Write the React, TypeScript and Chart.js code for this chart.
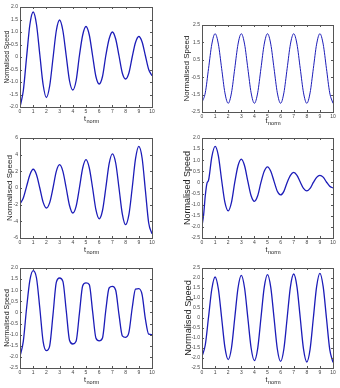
import React, { useEffect, useRef } from "react";
import { Chart, registerables } from "chart.js";
Chart.register(...registerables);

// ---------- data ----------
const T = [0, 0.25, 0.5, 0.75, 1, 1.25, 1.5, 1.75, 2, 2.25, 2.5, 2.75, 3, 3.25, 3.5, 3.75, 4, 4.25, 4.5, 4.75, 5, 5.25, 5.5, 5.75, 6, 6.25, 6.5, 6.75, 7, 7.25, 7.5, 7.75, 8, 8.25, 8.5, 8.75, 9, 9.25, 9.5, 9.75, 10];
const T4 = [0, 0.125, 0.25, 0.375, 0.5, 0.75, 1, 1.25, 1.5, 1.75, 2, 2.25, 2.5, 2.75, 3, 3.25, 3.5, 3.75, 4, 4.25, 4.5, 4.75, 5, 5.25, 5.5, 5.75, 6, 6.25, 6.5, 6.75, 7, 7.25, 7.5, 7.75, 8, 8.25, 8.5, 8.75, 9, 9.25, 9.5, 9.75, 10];

const SPEED_1 = [-2.0, -1.35, 0.0, 1.3, 1.8, 1.3, 0.1, -1.1, -1.62, -1.15, -0.05, 1.05, 1.48, 1.05, 0.05, -0.95, -1.32, -0.95, 0.05, 0.88, 1.22, 0.88, 0.05, -0.78, -1.08, -0.78, 0.05, 0.72, 1.0, 0.72, 0.05, -0.64, -0.88, -0.64, 0.0, 0.58, 0.82, 0.6, 0.05, -0.5, -0.75];
const SPEED_2 = [-1.95, -1.4, 0.0, 1.4, 2.0, 1.4, 0.0, -1.4, -2.0, -1.4, 0.0, 1.4, 2.0, 1.4, 0.0, -1.4, -2.0, -1.4, 0.0, 1.4, 2.0, 1.4, 0.0, -1.4, -2.0, -1.4, 0.0, 1.4, 2.0, 1.4, 0.0, -1.4, -2.0, -1.4, 0.0, 1.4, 2.0, 1.4, 0.0, -1.4, -2.0];
const SPEED_3 = [-1.9, -1.2, 0.2, 1.6, 2.25, 1.6, 0.0, -1.7, -2.4, -1.75, 0.0, 2.0, 2.8, 2.0, 0.0, -2.1, -3.0, -2.2, 0.0, 2.4, 3.4, 2.4, 0.0, -2.6, -3.7, -2.7, 0.0, 2.9, 4.1, 3.0, 0.0, -3.1, -4.4, -3.2, 0.0, 3.5, 5.0, 3.6, -0.3, -4.2, -5.5];
const SPEED_4 = [-1.95, -1.45, -0.6, -0.05, 0.1, 1.15, 1.62, 1.2, 0.1, -0.9, -1.28, -0.9, 0.0, 0.75, 1.05, 0.75, 0.05, -0.6, -0.85, -0.6, 0.0, 0.5, 0.7, 0.5, 0.05, -0.4, -0.56, -0.4, 0.0, 0.32, 0.45, 0.32, 0.02, -0.27, -0.38, -0.27, 0.0, 0.23, 0.32, 0.24, 0.02, -0.17, -0.25];
const SPEED_5 = [-1.98, -1.3, 0.2, 1.45, 1.88, 1.55, 0.2, -1.3, -1.72, -1.5, -0.1, 1.35, 1.55, 1.4, 0.1, -1.25, -1.42, -1.3, -0.05, 1.2, 1.33, 1.25, 0.05, -1.15, -1.28, -1.15, 0.1, 1.1, 1.17, 1.0, -0.1, -1.05, -1.12, -0.9, 0.2, 1.05, 1.07, 0.8, -0.3, -0.98, -1.0];
const SPEED_6 = [-1.92, -1.35, 0.05, 1.45, 2.05, 1.45, 0.0, -1.47, -2.08, -1.5, 0.0, 1.5, 2.13, 1.5, 0.0, -1.5, -2.13, -1.53, 0.0, 1.53, 2.17, 1.53, 0.0, -1.55, -2.17, -1.55, 0.0, 1.56, 2.2, 1.56, 0.0, -1.56, -2.2, -1.57, 0.0, 1.57, 2.23, 1.57, 0.0, -1.57, -2.22];

const X_LABEL = "t";
const X_LABEL_SUB = "norm";
const Y_LABEL = "Normalised Speed";

// ---------- layout (positions/styles) ----------
type PanelCfg = {
  tt: number[]; yy: number[];
  l: number; t: number; r: number; b: number;
  ymin: number; ymax: number; step: number;
  ySize: number; yDx: number; xSize: number; xDy: number; lw: number;
};

const PANELS: PanelCfg[] = [
  { tt: T, yy: SPEED_1, l: 20, t: 7, r: 152, b: 107, ymin: -2, ymax: 2, step: 0.5, ySize: 6.4, yDx: 13, xSize: 7, xDy: 7, lw: 1.3 },
  { tt: T, yy: SPEED_2, l: 202, t: 25, r: 333, b: 112, ymin: -2.5, ymax: 2.5, step: 0.5, ySize: 8, yDx: 15, xSize: 7, xDy: 4, lw: 1.0 },
  { tt: T, yy: SPEED_3, l: 20, t: 138, r: 152, b: 238, ymin: -6, ymax: 6, step: 2, ySize: 8, yDx: 10, xSize: 7, xDy: 7, lw: 1.3 },
  { tt: T4, yy: SPEED_4, l: 202, t: 138, r: 333, b: 238, ymin: -2.5, ymax: 2, step: 0.5, ySize: 9, yDx: 14, xSize: 7, xDy: 7, lw: 1.3 },
  { tt: T, yy: SPEED_5, l: 20, t: 268, r: 152, b: 368, ymin: -2.5, ymax: 2, step: 0.5, ySize: 7, yDx: 13, xSize: 7, xDy: 7, lw: 1.3 },
  { tt: T, yy: SPEED_6, l: 202, t: 268, r: 333, b: 368, ymin: -2.5, ymax: 2.5, step: 0.5, ySize: 9.2, yDx: 14, xSize: 7, xDy: 7, lw: 1.3 },
];

const FONT = '"Liberation Sans", Arial, sans-serif';

function PanelChart({ p }: { p: PanelCfg }) {
  const ref = useRef<HTMLCanvasElement | null>(null);
  const W = p.r - p.l + 28;
  const H = p.b - p.t + 30;
  useEffect(() => {
    if (!ref.current) return;
    const boxPlugin = {
      id: "box",
      afterDraw(chart: any) {
        const ctx = chart.ctx;
        const a = chart.chartArea;
        ctx.save();
        ctx.strokeStyle = "#555";
        ctx.lineWidth = 1;
        ctx.strokeRect(Math.round(a.left) + 0.5, Math.round(a.top) + 0.5, Math.round(a.right - a.left), Math.round(a.bottom - a.top));
        const tl = 2;
        const xs = chart.scales.x;
        const ys = chart.scales.y;
        ctx.beginPath();
        xs.ticks.forEach((tk: any) => {
          const px = Math.round(xs.getPixelForValue(tk.value)) + 0.5;
          ctx.moveTo(px, a.bottom); ctx.lineTo(px, a.bottom - tl);
          ctx.moveTo(px, a.top); ctx.lineTo(px, a.top + tl);
        });
        ys.ticks.forEach((tk: any) => {
          const py = Math.round(ys.getPixelForValue(tk.value)) + 0.5;
          ctx.moveTo(a.left, py); ctx.lineTo(a.left + tl, py);
          ctx.moveTo(a.right, py); ctx.lineTo(a.right - tl, py);
        });
        ctx.stroke();
        // x title with subscript
        ctx.fillStyle = "#222";
        ctx.textBaseline = "alphabetic";
        ctx.textAlign = "left";
        const cx = (a.left + a.right) / 2;
        ctx.font = `${p.xSize}px ${FONT}`;
        const tw = ctx.measureText(X_LABEL).width;
        const baseY = a.bottom + p.xDy + p.xSize;
        ctx.fillText(X_LABEL, cx - 2, baseY);
        ctx.font = `${p.xSize * 0.8}px ${FONT}`;
        ctx.fillText(X_LABEL_SUB, cx - 2 + tw + 0.5, baseY + p.xSize * 0.35);
        // y title
        ctx.save();
        ctx.translate(a.left - p.yDx, (a.top + a.bottom) / 2);
        ctx.rotate(-Math.PI / 2);
        ctx.textAlign = "center";
        ctx.textBaseline = "middle";
        ctx.font = `${p.ySize}px ${FONT}`;
        ctx.fillText(Y_LABEL, 0, 0);
        ctx.restore();
        ctx.restore();
      },
    };
    const chart = new Chart(ref.current, {
      type: "line",
      data: {
        datasets: [
          {
            data: p.tt.map((x, i) => ({ x, y: p.yy[i] })),
            borderColor: "#1c1cb8",
            borderWidth: p.lw,
            pointRadius: 0,
            cubicInterpolationMode: "monotone",
            fill: false,
          },
        ],
      },
      options: {
        responsive: false,
        animation: false,
        devicePixelRatio: 1,
        layout: { padding: { left: 0, top: 8, right: 8, bottom: 0 } },
        plugins: { legend: { display: false }, tooltip: { enabled: false } },
        scales: {
          x: {
            type: "linear",
            min: 0,
            max: 10,
            grid: { display: false, drawTicks: false },
            border: { display: false },
            ticks: { stepSize: 1, padding: 2, color: "#444", font: { size: 5, family: FONT }, maxRotation: 0 },
            afterFit: (s: any) => { s.height = 22; },
          },
          y: {
            type: "linear",
            min: p.ymin,
            max: p.ymax,
            grid: { display: false, drawTicks: false },
            border: { display: false },
            ticks: { stepSize: p.step, padding: 2, color: "#444", font: { size: 5, family: FONT } },
            afterFit: (s: any) => { s.width = 20; },
          },
        },
      } as any,
      plugins: [boxPlugin],
    });
    return () => chart.destroy();
  }, []);
  return (
    <canvas
      ref={ref}
      width={W}
      height={H}
      style={{ position: "absolute", left: p.l - 20, top: p.t - 8, width: W, height: H }}
    />
  );
}

export default function App() {
  return (
    <div style={{ position: "absolute", left: 0, top: 0, width: 340, height: 388, background: "#fff", overflow: "hidden" }}>
      {PANELS.map((p, i) => (
        <PanelChart key={i} p={p} />
      ))}
    </div>
  );
}
